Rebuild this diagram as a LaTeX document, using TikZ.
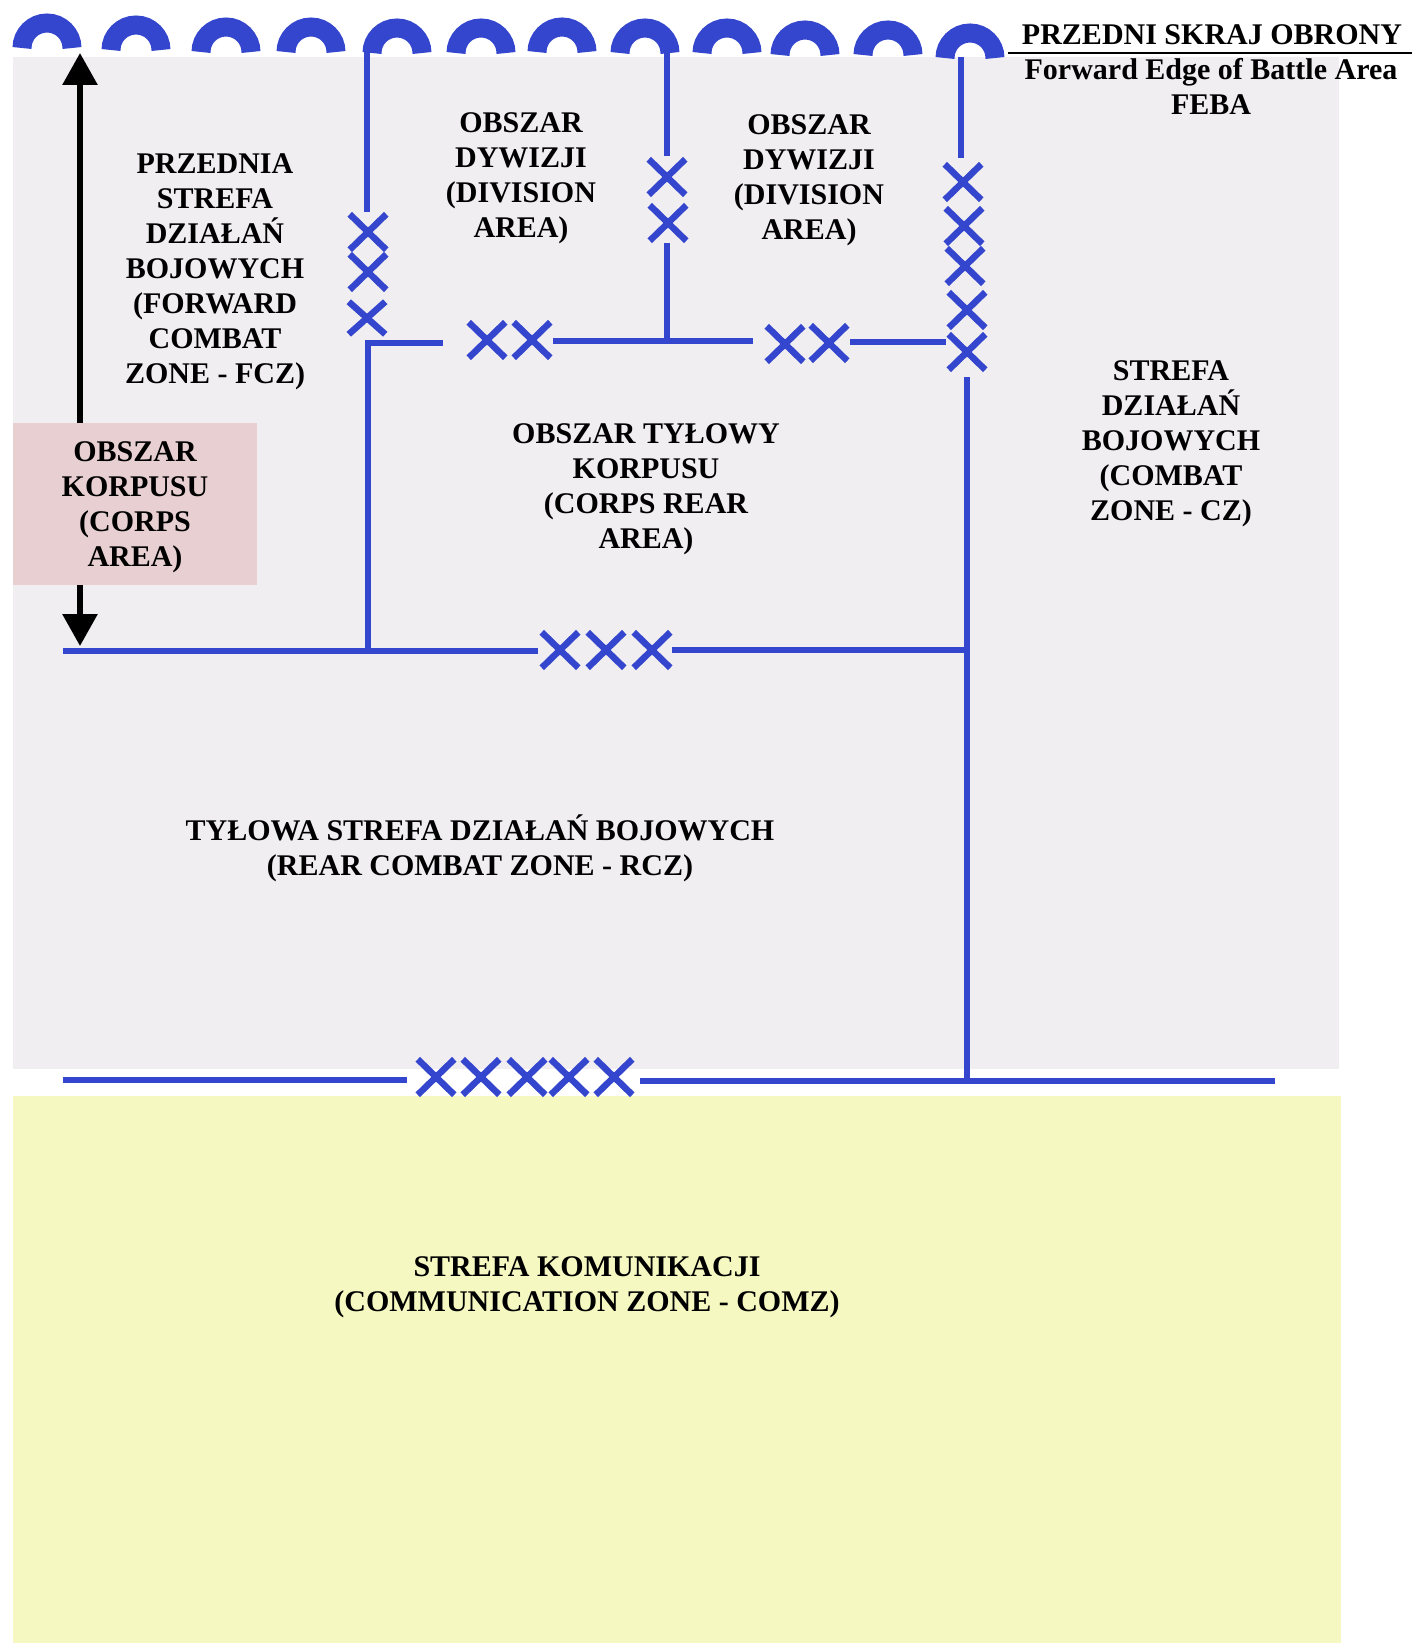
\documentclass[tikz,border=0pt]{standalone}
\usepackage{fontspec}
\setmainfont{Liberation Serif}
\usetikzlibrary{arrows.meta,shapes.misc}
\definecolor{bluel}{RGB}{52,70,205}
\definecolor{grayfill}{RGB}{240,238,241}
\definecolor{yellowfill}{RGB}{245,248,192}
\definecolor{pinkfill}{RGB}{232,208,210}
\begin{document}
\begin{tikzpicture}[x=1pt,y=-1pt,
  bline/.style={draw=bluel,line width=6pt},
  xmark/.style={draw=bluel,line width=6.5pt,cross out,inner sep=0pt,minimum width=30pt,minimum height=29pt},
  arcline/.style={draw=bluel,line width=19pt},
  lbl/.style={font=\bfseries\fontsize{30}{35}\selectfont,align=center,inner sep=0pt},
]
\useasboundingbox (0,0) rectangle (1412,1643);
\fill[white] (0,0) rectangle (1412,1643);
\fill[grayfill] (13,57) rectangle (1339,1069);
\fill[yellowfill] (13,1096) rectangle (1341,1643);

% double arrow and corps area box
\coordinate (atop) at (80,53);
\coordinate (abot) at (80,646);
\draw[line width=6pt,{Triangle[width=34pt,length=32pt]}-{Triangle[width=34pt,length=32pt]}] (atop) -- (abot);
\node[fill=pinkfill,inner sep=0pt,minimum width=244pt,minimum height=162pt] (corpsbox) at (135,504) {};
\node[lbl] (corps) at (135,507) {OBSZAR\\KORPUSU\\(CORPS\\AREA)};

% left vertical boundary
\coordinate (l1) at (367,52);
\coordinate (l2) at (367,212);
\node[xmark] (lx1) at (368,232) {};
\node[xmark] (lx2) at (368,272) {};
\node[xmark,minimum height=26pt] (lx3) at (367,318) {};
\coordinate (l3) at (443,343);
\coordinate (l4) at (368,651);
\draw[bline] (l1) -- (l2);
\draw[bline] (l3) -| (l4);

% middle vertical boundary
\coordinate (m1) at (667,53);
\coordinate (m2) at (667,156);
\node[xmark] (mx1) at (667,177) {};
\node[xmark] (mx2) at (668,223) {};
\coordinate (m3) at (667,243);
\coordinate (m4) at (667,341);
\draw[bline] (m1) -- (m2);
\draw[bline] (m3) -- (m4);

% upper horizontal boundary
\node[xmark] (hx1) at (487,340) {};
\node[xmark] (hx2) at (532,340) {};
\coordinate (h1) at (553,341);
\coordinate (h2) at (753,341);
\draw[bline] (h1) -- (h2);
\node[xmark] (hx3) at (785,344) {};
\node[xmark] (hx4) at (829,343) {};
\coordinate (h3) at (850,342);
\coordinate (h4) at (946,342);
\draw[bline] (h3) -- (h4);

% right vertical boundary
\coordinate (r1) at (961,57);
\coordinate (r2) at (961,158);
\node[xmark] (rx1) at (963,182) {};
\node[xmark] (rx2) at (964,226) {};
\node[xmark] (rx3) at (965,266) {};
\node[xmark] (rx4) at (967,310) {};
\node[xmark] (rx5) at (967,352) {};
\coordinate (r3) at (967,377);
\coordinate (r4) at (967,1084);
\draw[bline] (r1) -- (r2);
\draw[bline] (r3) -- (r4);

% corps rear boundary
\coordinate (c1) at (63,651);
\coordinate (c2) at (538,651);
\node[xmark] (cx1) at (560,650) {};
\node[xmark] (cx2) at (606,650) {};
\node[xmark] (cx3) at (652,650) {};
\coordinate (c3) at (672,650);
\coordinate (c4) at (967,650);
\draw[bline] (c1) -- (c2);
\draw[bline] (c3) -- (c4);

% combat zone rear boundary
\coordinate (b1) at (63,1080);
\coordinate (b2) at (407,1080);
\node[xmark] (bx1) at (436,1077) {};
\node[xmark] (bx2) at (481,1077) {};
\node[xmark] (bx3) at (527,1077) {};
\node[xmark] (bx4) at (569,1077) {};
\node[xmark] (bx5) at (614,1077) {};
\coordinate (b3) at (640,1081);
\coordinate (b4) at (1275,1081);
\draw[bline] (b1) -- (b2);
\draw[bline] (b3) -- (b4);

% FEBA arcs
\foreach \cx/\by in {47/48,136/50,226/52,311/52,397/53,481/53,562/52,645/53,727/53,805/55,888/55,970/58}
  \draw[arcline] ({\cx-25},\by) arc[start angle=180,end angle=360,radius=25];

% FEBA legend
\node[lbl,anchor=base] (feba1) at (1212,45) {PRZEDNI SKRAJ OBRONY};
\coordinate (fl1) at (1008,53);
\coordinate (fl2) at (1412,53);
\draw[line width=2pt] (fl1) -- (fl2);
\node[lbl,anchor=base] (feba2) at (1211,80) {Forward Edge of Battle Area};
\node[lbl,anchor=base] (feba3) at (1211,115) {FEBA};

% zone labels
\node[lbl] (fcz) at (215,272) {PRZEDNIA\\STREFA\\DZIAŁAŃ\\BOJOWYCH\\(FORWARD\\COMBAT\\ZONE - FCZ)};
\node[lbl] (div1) at (521,178) {OBSZAR\\DYWIZJI\\(DIVISION\\AREA)};
\node[lbl] (div2) at (809,180) {OBSZAR\\DYWIZJI\\(DIVISION\\AREA)};
\node[lbl] (cra) at (646,489) {OBSZAR TYŁOWY\\KORPUSU\\(CORPS REAR\\AREA)};
\node[lbl] (cz) at (1171,444) {STREFA\\DZIAŁAŃ\\BOJOWYCH\\(COMBAT\\ZONE - CZ)};
\node[lbl] (rcz) at (480,848) {TYŁOWA STREFA DZIAŁAŃ BOJOWYCH\\(REAR COMBAT ZONE - RCZ)};
\node[lbl] (comz) at (587,1287) {STREFA KOMUNIKACJI\\(COMMUNICATION ZONE - COMZ)};
\end{tikzpicture}
\end{document}
